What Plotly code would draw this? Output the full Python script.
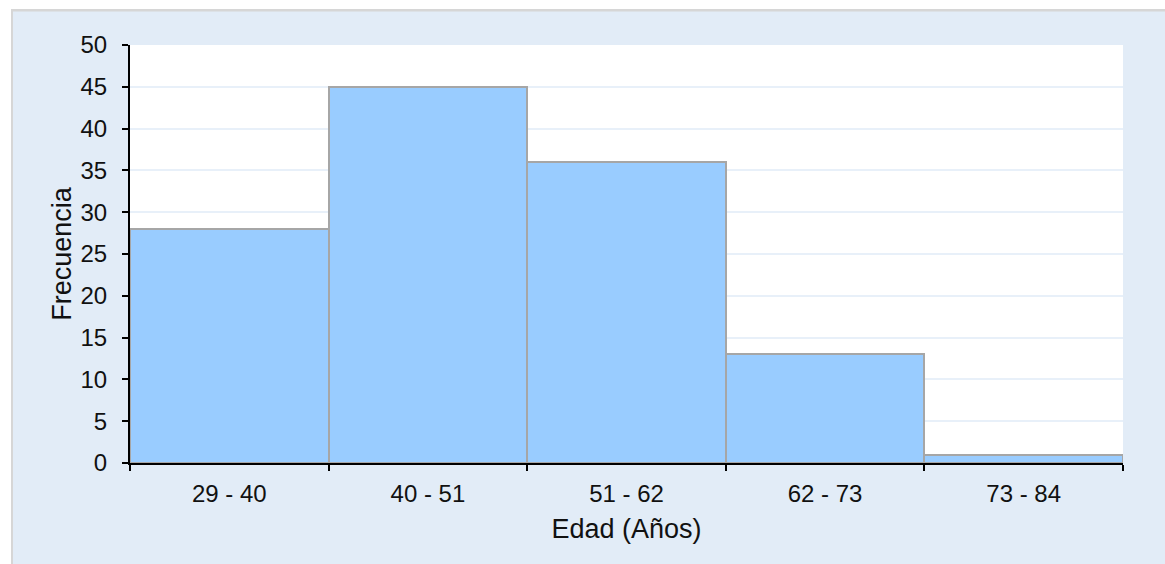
import plotly.graph_objects as go

# Age classes (years) and their frequencies
clases = ["29 - 40", "40 - 51", "51 - 62", "62 - 73", "73 - 84"]
frecuencias = [28, 45, 36, 13, 1]
y_ticks = [0, 5, 10, 15, 20, 25, 30, 35, 40, 45, 50]

W, H = 1165, 564
ML, MR, MT, MB = 130, 42, 45, 101
PW, PH = W - ML - MR, H - MT - MB


def px_x(px):
    return (px - ML) / PW


def px_y(py):
    return (H - MB - py) / PH


FONT = "Liberation Sans, Arial, sans-serif"
BG = "#e2ecf7"
TICK_SIZE = 24
TITLE_SIZE = 27

fig = go.Figure(
    go.Bar(
        x=clases,
        y=frecuencias,
        marker=dict(color="#99ccff", line=dict(color="#a6a6a6", width=2)),
        hoverinfo="x+y",
    )
)

fig.update_layout(
    width=W,
    height=H,
    margin=dict(l=ML, r=MR, t=MT, b=MB, pad=0),
    paper_bgcolor=BG,
    plot_bgcolor="white",
    bargap=0,
    showlegend=False,
    font=dict(family=FONT, size=TICK_SIZE, color="#111111"),
    shapes=[
        # white strips outside the framed panel
        dict(type="rect", xref="paper", yref="paper",
             x0=px_x(0), x1=px_x(11), y0=px_y(H), y1=px_y(0),
             fillcolor="white", line=dict(width=0), layer="above"),
        dict(type="rect", xref="paper", yref="paper",
             x0=px_x(0), x1=px_x(W), y0=px_y(9), y1=px_y(0),
             fillcolor="white", line=dict(width=0), layer="above"),
        # light grey frame edges
        dict(type="rect", xref="paper", yref="paper",
             x0=px_x(11), x1=px_x(13), y0=px_y(H), y1=px_y(9),
             fillcolor="#d6d6d6", line=dict(width=0), layer="above"),
        dict(type="rect", xref="paper", yref="paper",
             x0=px_x(11), x1=px_x(W), y0=px_y(11.5), y1=px_y(9),
             fillcolor="#d6d6d6", line=dict(width=0), layer="above"),
    ],
)

fig.update_xaxes(
    type="category",
    range=[-0.5, 4.5],
    tickson="boundaries",
    ticks="outside",
    ticklen=6,
    tickwidth=2,
    tickcolor="#000000",
    showline=True,
    linecolor="#000000",
    linewidth=2,
    showgrid=False,
    zeroline=False,
    ticklabelstandoff=8,
    tickfont=dict(size=TICK_SIZE),
    title=dict(text="Edad (Años)", font=dict(size=TITLE_SIZE), standoff=13),
)

fig.update_yaxes(
    range=[0, 50],
    tickvals=y_ticks,
    ticks="outside",
    ticklen=6,
    tickwidth=2,
    tickcolor="#000000",
    showline=True,
    linecolor="#000000",
    linewidth=2,
    showgrid=True,
    gridcolor="#e8f0f9",
    gridwidth=1.5,
    zeroline=False,
    ticklabelstandoff=10,
    tickfont=dict(size=TICK_SIZE),
    title=dict(text="Frecuencia", font=dict(size=TITLE_SIZE), standoff=1),
)

fig.write_html("out.html")
